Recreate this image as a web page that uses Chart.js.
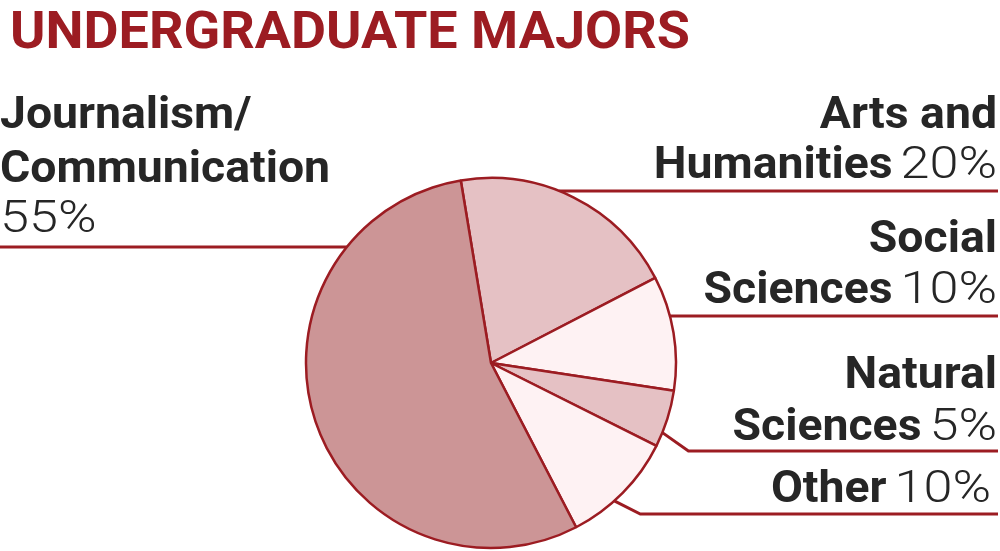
<!DOCTYPE html>
<html>
<head>
<meta charset="utf-8">
<script src="https://cdn.jsdelivr.net/npm/chart.js"></script>
<style>
  html, body { margin: 0; padding: 0; background: #fff; }
</style>
</head>
<body>
<canvas id="myChart" width="1000" height="551"></canvas>
<script>
var titulo = "UNDERGRADUATE MAJORS"
var categorias = ["Arts and Humanities", "Social Sciences", "Natural Sciences", "Other", "Journalism/Communication"]
var valores = [20, 10, 5, 10, 55]
var rotulos = [["Arts and", "Humanities"], ["Social", "Sciences"], ["Natural", "Sciences"], ["Other"], ["Journalism/", "Communication"]]
var cores = ["#e5c1c4", "#fef2f3", "#e5c1c4", "#fef2f3", "#cc9596"]

var vermelho = "#9c1c22"
var texto = "#262626"

// where each label sits (layout only)
var posicoes = [
  { lado: "dir", x: 997, linhas: [128, 178], linhaY: 191 },
  { lado: "dir", x: 997, linhas: [252, 303], linhaY: 316 },
  { lado: "dir", x: 997, linhas: [388, 440], linhaY: 451, frac: 0.75 },
  { lado: "dir", x: 991, linhas: [502], linhaY: 514, frac: 0.6 },
  { lado: "esq", x: 0, linhas: [128, 182, 232], linhaY: 247 }
]

var fonteB = "700 45px Roboto"
var fonteL = "300 45px Roboto"
var escalaB = 1.03
var escalaL = 1.16

// draws text stretched horizontally, returns its width
function escreve(ctx, txt, x, y, fonte, sx, alinhar) {
  ctx.font = fonte
  const w = ctx.measureText(txt).width * sx
  const x0 = alinhar == "right" ? x - w : x
  ctx.save()
  ctx.textAlign = "left"
  ctx.translate(x0, y)
  ctx.scale(sx, 1)
  ctx.fillText(txt, 0, 0)
  ctx.restore()
  return w
}

const rotulosPlugin = {
  id: "rotulos",
  beforeDatasetsDraw(chart) {
    const ctx = chart.ctx
    const arcs = chart.getDatasetMeta(0).data
    ctx.save()
    ctx.strokeStyle = vermelho
    ctx.lineWidth = 3
    for (let i = 0; i < arcs.length; i++) {
      const a = arcs[i]
      const p = posicoes[i]
      const r = a.outerRadius
      ctx.beginPath()
      if (p.frac) {
        const ang = a.startAngle + (a.endAngle - a.startAngle) * p.frac
        const sx = a.x + Math.cos(ang) * r
        const sy = a.y + Math.sin(ang) * r
        ctx.moveTo(sx, sy)
        ctx.lineTo(sx + 26, p.linhaY)
        ctx.lineTo(998, p.linhaY)
      } else {
        const dy = p.linhaY - a.y
        const dx = Math.sqrt(Math.max(r * r - dy * dy, 0))
        if (p.lado == "dir") {
          ctx.moveTo(a.x + dx, p.linhaY)
          ctx.lineTo(998, p.linhaY)
        } else {
          ctx.moveTo(a.x - dx, p.linhaY)
          ctx.lineTo(0, p.linhaY)
        }
      }
      ctx.stroke()
    }
    ctx.restore()
  },
  afterDatasetsDraw(chart) {
    const ctx = chart.ctx
    ctx.save()
    ctx.textBaseline = "alphabetic"

    // title, stretched to the reference width
    ctx.font = "700 51px Roboto"
    ctx.fillStyle = vermelho
    const tw = ctx.measureText(titulo).width
    escreve(ctx, titulo, 10, 48, "700 51px Roboto", 680 / tw, "left")

    ctx.fillStyle = texto
    for (let i = 0; i < rotulos.length; i++) {
      const p = posicoes[i]
      const pct = valores[i] + "%"
      const linhas = rotulos[i]
      if (p.lado == "esq") {
        for (let j = 0; j < linhas.length; j++) {
          escreve(ctx, linhas[j], p.x, p.linhas[j], fonteB, escalaB, "left")
        }
        escreve(ctx, pct, p.x, p.linhas[linhas.length], fonteL, escalaL, "left")
      } else {
        for (let j = 0; j < linhas.length - 1; j++) {
          escreve(ctx, linhas[j], p.x, p.linhas[j], fonteB, escalaB, "right")
        }
        const ult = p.linhas[linhas.length - 1]
        const w = escreve(ctx, pct, p.x, ult, fonteL, escalaL, "right")
        escreve(ctx, linhas[linhas.length - 1], p.x - w - 8, ult, fonteB, escalaB, "right")
      }
    }
    ctx.restore()
  }
}

const ctx = document.getElementById("myChart")

new Chart(ctx, {
  type: "pie",
  data: {
    labels: categorias,
    datasets: [{
      data: valores,
      backgroundColor: cores,
      borderColor: vermelho,
      borderWidth: 2.5,
      radius: 185
    }]
  },
  options: {
    responsive: false,
    animation: false,
    rotation: -9.4,
    layout: { padding: { top: 178, bottom: 3, left: 0, right: 18 } },
    plugins: {
      legend: { display: false },
      tooltip: { enabled: false }
    }
  },
  plugins: [rotulosPlugin]
});
</script>
</body>
</html>
